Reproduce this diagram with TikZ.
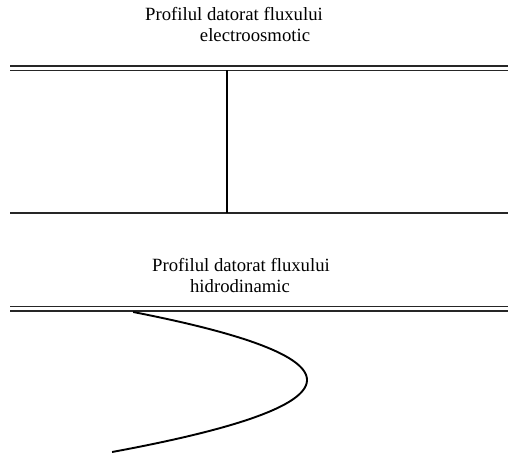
\documentclass[tikz,border=0pt]{standalone}
\usepackage{fontspec}
\setmainfont{Liberation Serif}
\begin{document}
\begin{tikzpicture}[x=1pt,y=-1pt,
  lbl/.style={anchor=base,inner sep=0pt,font=\fontsize{18.7}{22}\selectfont},
  wall/.style={line width=1.7pt,black!85},
  prof/.style={line width=1.9pt,black}]
\useasboundingbox (0,0) rectangle (508,454);
% top panel
\node[lbl] (t1) at (234,21) {Profilul datorat fluxului};
\node[lbl] (t2) at (255,42) {electroosmotic};
\coordinate (a1) at (10,66); \coordinate (a2) at (508,66);
\coordinate (b1) at (10,70.5); \coordinate (b2) at (508,70.5);
\coordinate (c1) at (10,213); \coordinate (c2) at (508,213);
\coordinate (v1) at (227,70.5); \coordinate (v2) at (227,213);
\draw[wall] (a1) -- (a2);
\draw[wall] (b1) -- (b2);
\draw[wall] (c1) -- (c2);
\draw[prof] (v1) -- (v2);
% bottom panel
\node[lbl] (h1) at (241,271) {Profilul datorat fluxului};
\node[lbl] (h2) at (240,292) {hidrodinamic};
\coordinate (d1) at (10,306.5); \coordinate (d2) at (508,306.5);
\coordinate (e1) at (10,311); \coordinate (e2) at (508,311);
\draw[wall] (d1) -- (d2);
\draw[wall] (e1) -- (e2);
\draw[prof] plot[domain=312:452,samples=80,variable=\t] ({307-0.0376*(\t-380)*(\t-380)},\t);
\end{tikzpicture}
\end{document}
